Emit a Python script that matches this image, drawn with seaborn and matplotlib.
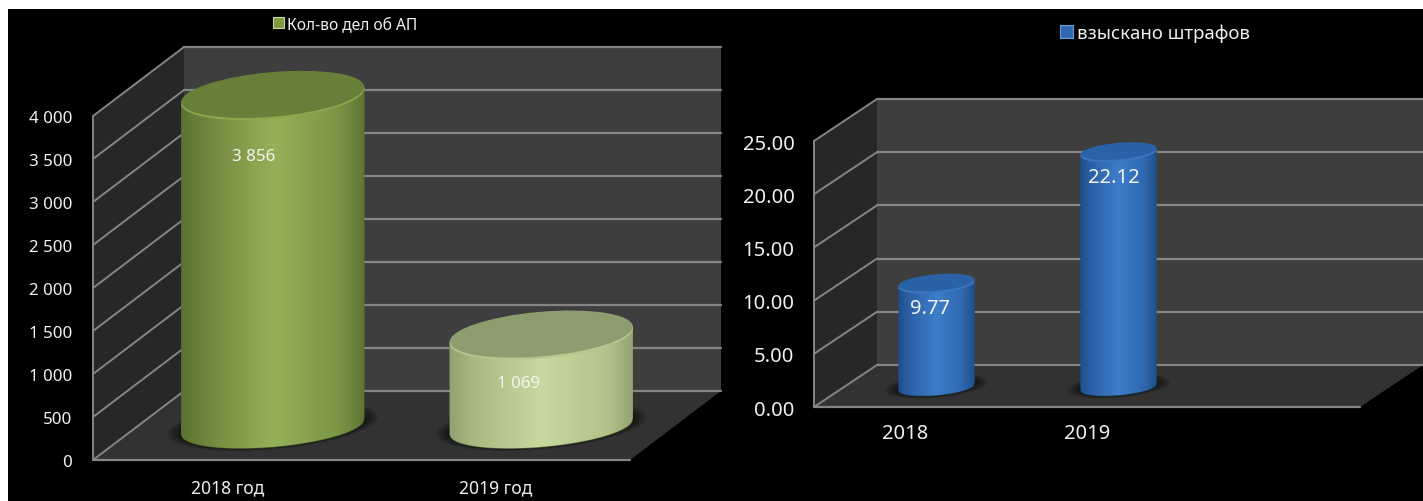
import numpy as np
import matplotlib
matplotlib.use("Agg")
import matplotlib.pyplot as plt
from matplotlib.colors import LinearSegmentedColormap
from matplotlib.patches import Ellipse, Patch, Polygon, Rectangle
from matplotlib.transforms import Affine2D, IdentityTransform
import seaborn as sns

sns.set_theme(style="dark")
plt.rcParams['font.family'] = ['Noto Sans', 'DejaVu Sans']

# data
cases_years = ['2018 год', '2019 год']
cases_values = [3856, 1069]
cases_labels = ['3 856', '1 069']
cases_legend = 'Кол-во дел об АП'
cases_ticks = [0, 500, 1000, 1500, 2000, 2500, 3000, 3500, 4000]

fines_years = ['2018', '2019']
fines_values = [9.77, 22.12]
fines_labels = ['9.77', '22.12']
fines_legend = 'взыскано штрафов'
fines_ticks = [0, 5, 10, 15, 20, 25]

W, H = 1423, 502
GRID = '#858585'
TXT = '#f0f0f0'


def shift(ax, dx, dy):
    return ax.transData + Affine2D().translate(dx, dy)


def half_ellipse(cx, cy, a, b, start, stop, tilt=5.0):
    t = np.radians(np.linspace(start, stop, 60))
    r = np.radians(tilt)
    x = a * np.cos(t)
    y = b * np.sin(t)
    return np.c_[cx + x * np.cos(r) - y * np.sin(r), cy + x * np.sin(r) + y * np.cos(r)]


def cylinder(ax, bar, trans, minor, side, top, rim):
    disp = IdentityTransform()
    x0 = bar.get_x()
    x1 = x0 + bar.get_width()
    l, b0 = trans.transform((x0, 0))
    r, t0 = trans.transform((x1, bar.get_height()))
    cx = (l + r) / 2
    a = (r - l) / 2 + 1
    base = minor * 0.87

    # soft shadow on the floor
    for s in np.linspace(1, 0.1, 9):
        ax.add_patch(Ellipse((cx, b0 + 2), 2 * (a + 14 * s), 2 * (base + 4 * s), angle=5, fc='black', ec='none',
                             alpha=0.07, transform=disp, clip_on=False, zorder=3))

    body = np.r_[half_ellipse(cx, b0, a, base, 180, 360), half_ellipse(cx, t0, a, minor, 0, 180)]
    clip = Polygon(body, transform=disp)
    cmap = LinearSegmentedColormap.from_list('side', side)
    im = ax.imshow(np.linspace(0, 1, 256)[None, :], cmap=cmap, aspect='auto', extent=(l - 3, r + 3, b0 - minor - 4, t0 + minor + 4),
                   transform=disp, zorder=4)
    im.set_clip_path(clip)
    im.set_clip_box(fig.bbox)
    ax.plot(*half_ellipse(cx, b0, a, base, 180, 360).T, color='#10180a', lw=1, alpha=0.6, transform=disp, clip_on=False, zorder=4.5)

    ax.add_patch(Ellipse((cx, t0), 2 * a, 2 * minor, angle=5, fc=rim, ec='none', transform=disp, clip_on=False, zorder=5))
    ax.add_patch(Ellipse((cx, t0 + 1.5), 2 * a - 0.5, 2 * minor - 1.5, angle=5, fc=top, ec='none', transform=disp, clip_on=False, zorder=6))


def panel(rect, depth, years, values, labels, ticks, tick_fmt, legend, legend_pos, legend_color, styles,
          n_slots, bar_width, minor, label_off, fs, tick_pad, xfs, xpad, legend_fs):
    x0, x1, y_bottom, y_top = rect
    ax = fig.add_axes([x0 / W, 1 - y_bottom / H, (x1 - x0) / W, (y_bottom - y_top) / H])
    ax.patch.set_alpha(0)
    sns.barplot(x=years, y=values, hue=years, palette=[s[1] for s in styles], legend=False,
                width=bar_width, saturation=1, ax=ax)
    xmin, xmax = -0.5, n_slots - 0.5
    ymax = ticks[-1]
    ax.set_xlim(xmin, xmax)
    ax.set_ylim(0, ymax)
    ax.set_autoscale_on(False)
    sns.despine(ax=ax, left=True, bottom=True)
    ax.grid(False)
    ax.set_yticks(ticks, [tick_fmt(v) for v in ticks])
    ax.tick_params(axis='y', length=0, pad=tick_pad, labelsize=fs, labelcolor=TXT)
    ax.tick_params(axis='x', length=0, pad=xpad, labelsize=xfs, labelcolor=TXT)
    ax.set_xlabel('')
    ax.set_ylabel('')

    dx, dy = depth
    back = shift(ax, dx, dy)
    front = ax.transData

    # walls and floor: corners taken through the axes scales
    fbl, fbr, ftl = front.transform([(xmin, 0), (xmax, 0), (xmin, ymax)])
    bbl, bbr, btl, btr = back.transform([(xmin, 0), (xmax, 0), (xmin, ymax), (xmax, ymax)])
    disp = IdentityTransform()
    ax.add_patch(Polygon([bbl, bbr, btr, btl], fc='#3e3e3e', ec='none', transform=disp, clip_on=False, zorder=0.5))
    ax.add_patch(Polygon([fbl, bbl, btl, ftl], fc='#272727', ec='none', transform=disp, clip_on=False, zorder=0.5))
    ax.add_patch(Polygon([fbl, fbr, bbr, bbl], fc='#323232', ec='none', transform=disp, clip_on=False, zorder=0.6))

    for v in ticks:
        ax.plot([xmin, xmax], [v, v], color=GRID, lw=1.6, transform=back, clip_on=False, zorder=1)
        p = front.transform((xmin, v))
        q = back.transform((xmin, v))
        ax.plot([p[0], q[0]], [p[1], q[1]], color=GRID, lw=1.4, transform=disp, clip_on=False, zorder=1)
    ax.plot([xmin, xmin], [0, ymax], color=GRID, lw=1.4, clip_on=False, zorder=1)
    ax.plot([xmin, xmax], [0, 0], color=GRID, lw=1.6, clip_on=False, zorder=1.5)

    # cylinders stand half way into the floor
    mid = shift(ax, dx / 2, dy / 2 - 2)
    bars = list(ax.patches)[:len(values)]
    for bar, (side, top, rim) in zip(bars, styles):
        bar.set_visible(False)
        cylinder(ax, bar, mid, minor, side, top, rim)

    for i, v in enumerate(values):
        ax.annotate(labels[i], (i, v), xytext=label_off[i], textcoords='offset pixels', ha='center', va='center',
                    fontsize=fs, color='#f2f2f2', zorder=8, annotation_clip=False)

    leg = ax.legend(handles=[Patch(fc=legend_color, ec='#c8d8a0' if legend_color == '#7f9a3f' else '#6f9fd8', lw=0.8)],
                    labels=[legend], loc='center left', bbox_to_anchor=(legend_pos[0] / W, 1 - legend_pos[1] / H),
                    bbox_transform=fig.transFigure, frameon=False, handlelength=0.7, handleheight=0.7,
                    handletextpad=0.2, borderpad=0, borderaxespad=0, prop={'size': legend_fs})
    for t in leg.get_texts():
        t.set_color(TXT)
    return ax


fig = plt.figure(figsize=(W / 100, H / 100), dpi=100, facecolor='white')
fig.add_artist(Rectangle((8 / W, 0), 1, 1 - 10 / H, transform=fig.transFigure, fc='black', ec='none', zorder=-5))

dark_green = [(0, '#5a7030'), (0.15, '#6f873d'), (0.5, '#95b158'), (0.85, '#7a9546'), (1, '#5a7030')]
pale_green = [(0, '#8f9f70'), (0.15, '#aabb82'), (0.5, '#c6d99e'), (0.85, '#b2c48a'), (1, '#8f9f70')]
blue = [(0, '#1e4a86'), (0.18, '#2c62a8'), (0.5, '#3d7dca'), (0.82, '#2f68ae'), (1, '#1e4a86')]

panel((93, 630, 461, 117), (91, 69), cases_years, cases_values, cases_labels, cases_ticks,
      lambda v: f"{v:,}".replace(',', ' '), cases_legend, (273, 25), '#7f9a3f',
      [(dark_green, '#677f38', '#8ca64c'), (pale_green, '#8c9d70', '#b4c78e')],
      2, 0.678, 23, [(26, -28), (23, -15)], 12.2, 15, 12.6, 13.5, 11.2)

panel((814, 1360, 408, 142), (63, 42), fines_years, fines_values, fines_labels, fines_ticks,
      lambda v: f"{v:.2f}", fines_legend, (1060, 34), '#2f68ae',
      [(blue, '#2a62a6', '#3a76bd'), (blue, '#2a62a6', '#3a76bd')],
      3, 0.41, 9, [(25, -5), (27, -5)], 14.5, 14, 14.5, 11.5, 13.4)

fig.savefig('out.png', dpi=100, facecolor='white')
